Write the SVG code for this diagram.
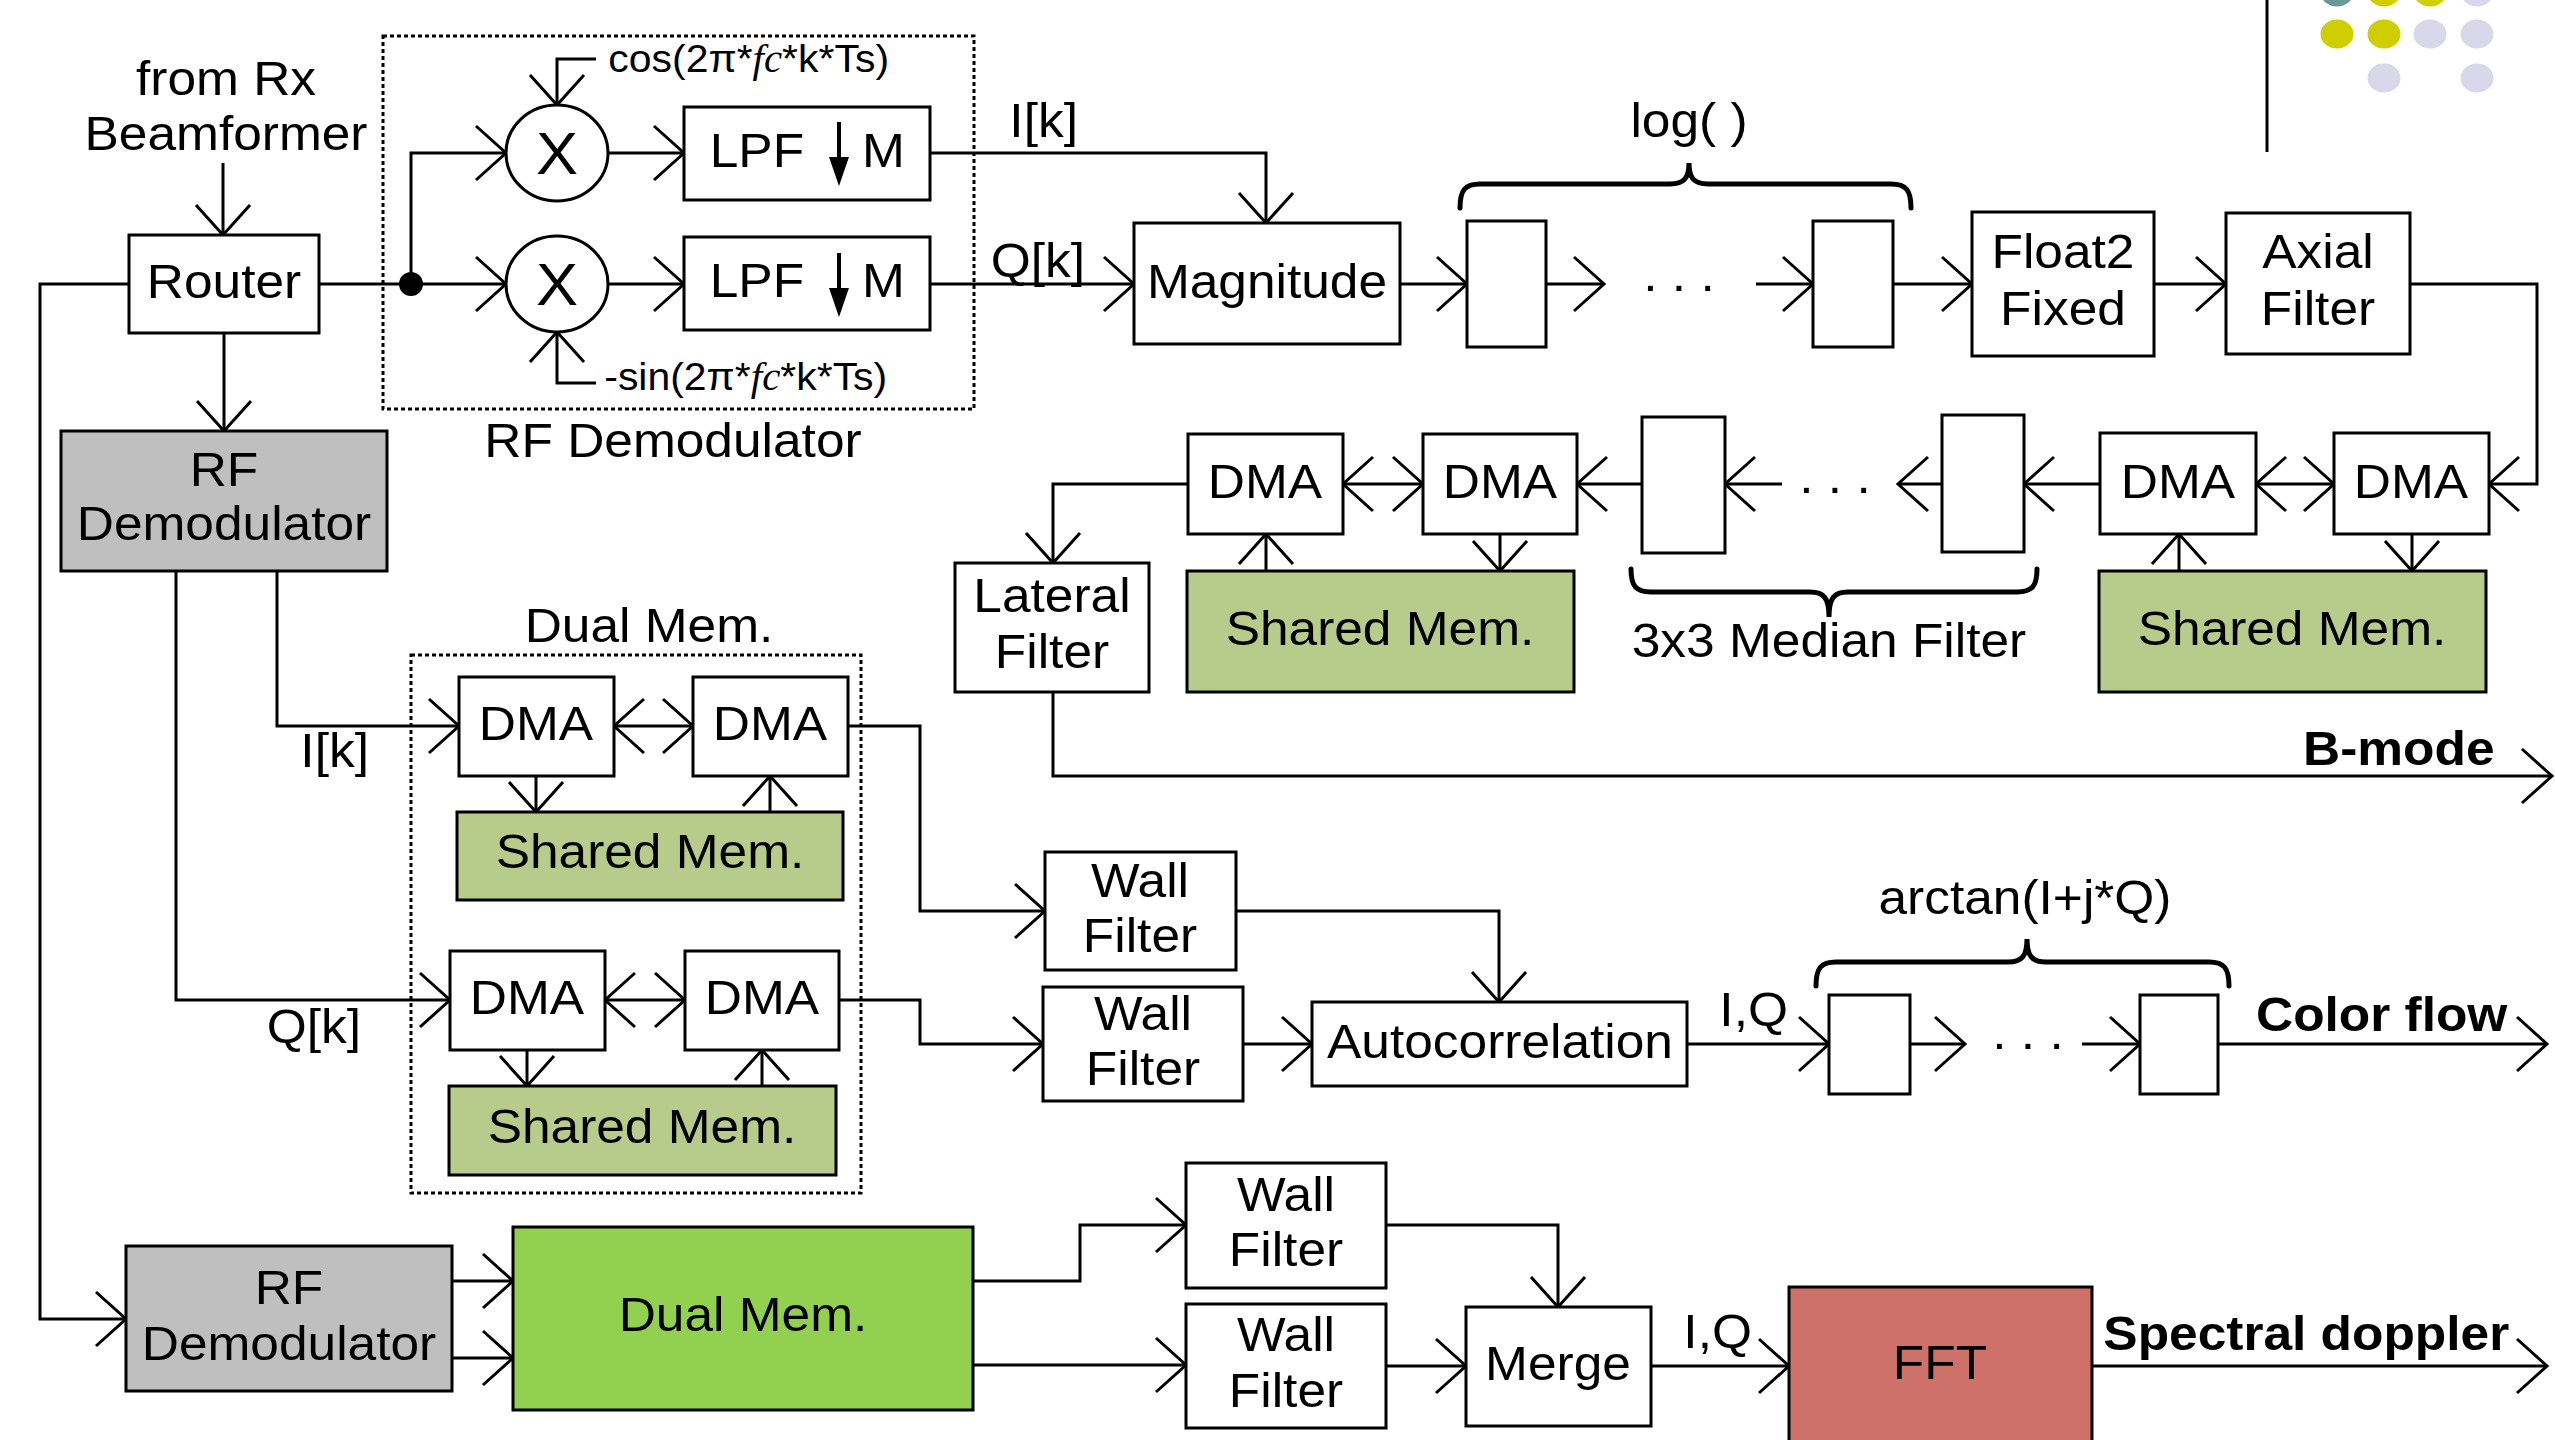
<svg xmlns="http://www.w3.org/2000/svg" width="2555" height="1440" viewBox="0 0 2555 1440">
<style>
.box{fill:#fff;stroke:#000;stroke-width:3}
.gray{fill:#bfbfbf}
.shared{fill:#b7cc8a}
.dual{fill:#92d050}
.fft{fill:#cd7169}
.frame{fill:none;stroke:#000;stroke-width:3;stroke-dasharray:4 3}
.w{fill:none;stroke:#000;stroke-width:3}
.a{marker-end:url(#ah)}
.d{marker-start:url(#ah2);marker-end:url(#ah2)}
.brace{fill:none;stroke:#000;stroke-width:5;stroke-linecap:round}
text{font-family:"Liberation Sans",Arial,sans-serif;font-size:49px;fill:#000;transform-box:fill-box;transform-origin:center;transform:scaleX(1.05)}
.m{text-anchor:middle}
.e{text-anchor:end}
.b{font-weight:bold}
.s{font-size:39px}
.x{font-size:60px}
.it{font-family:"Liberation Serif",serif;font-style:italic}
</style>
<defs>
<marker id="ah" markerUnits="userSpaceOnUse" viewBox="-32 -30 34 60" markerWidth="34" markerHeight="60" refX="0" refY="0" orient="auto" overflow="visible">
<path d="M-30,-27 L0,0 L-30,27" fill="none" stroke="#000" stroke-width="3"/>
</marker>
<marker id="ah2" markerUnits="userSpaceOnUse" viewBox="-32 -30 34 60" markerWidth="34" markerHeight="60" refX="0" refY="0" orient="auto-start-reverse" overflow="visible">
<path d="M-30,-27 L0,0 L-30,27" fill="none" stroke="#000" stroke-width="3"/>
</marker>
</defs>
<rect width="2555" height="1440" fill="#fff"/>

<g id="decoration">
<line x1="2267" y1="0" x2="2267" y2="152" stroke="#000" stroke-width="3"/>
<ellipse cx="2337" cy="-8" rx="16.5" ry="14.5" fill="#6a9a98"/>
<ellipse cx="2384" cy="-8" rx="16.5" ry="14.5" fill="#cfcf00"/>
<ellipse cx="2430" cy="-8" rx="16.5" ry="14.5" fill="#cfcf00"/>
<ellipse cx="2477" cy="-8" rx="16.5" ry="14.5" fill="#d8d8ea"/>
<ellipse cx="2337" cy="34" rx="16.5" ry="14.5" fill="#cfcf00"/>
<ellipse cx="2384" cy="34" rx="16.5" ry="14.5" fill="#cfcf00"/>
<ellipse cx="2430" cy="34" rx="16.5" ry="14.5" fill="#d8d8ea"/>
<ellipse cx="2477" cy="34" rx="16.5" ry="14.5" fill="#d8d8ea"/>
<ellipse cx="2384" cy="78" rx="16.5" ry="14.5" fill="#d8d8ea"/>
<ellipse cx="2477" cy="78" rx="16.5" ry="14.5" fill="#d8d8ea"/>
</g>

<g id="connectors">
<path class="w a" d="M223,163 V235"/>
<path class="w" d="M319,284 H411"/>
<path class="w a" d="M411,284 H506"/>
<path class="w a" d="M411,284 V153 H506"/>
<path class="w a" d="M608,153 H684"/>
<path class="w a" d="M608,284 H684"/>
<path class="w a" d="M596,59 H557 V105"/>
<path class="w a" d="M596,383 H557 V332"/>
<path class="w a" d="M930,153 H1266 V223"/>
<path class="w a" d="M930,284 H1134"/>
<path class="w a" d="M1400,284 H1467"/>
<path class="w a" d="M1546,284 H1604"/>
<path class="w a" d="M1756,284 H1813"/>
<path class="w a" d="M1893,284 H1972"/>
<path class="w a" d="M2154,284 H2226"/>
<path class="w a" d="M2410,284 H2537 V484 H2489"/>
<path class="w d" d="M2334,484 H2256"/>
<path class="w a" d="M2100,484 H2024"/>
<path class="w a" d="M1942,484 H1898"/>
<path class="w a" d="M1782,484 H1725"/>
<path class="w a" d="M1642,484 H1577"/>
<path class="w d" d="M1423,484 H1343"/>
<path class="w a" d="M1188,484 H1053 V563"/>
<path class="w a" d="M1266,571 V534"/>
<path class="w a" d="M1500,534 V571"/>
<path class="w a" d="M2179,571 V534"/>
<path class="w a" d="M2412,534 V571"/>
<path class="w a" d="M1053,692 V776 H2552"/>
<path class="w a" d="M224,333 V431"/>
<path class="w a" d="M129,284 H40 V1319 H126"/>
<path class="w a" d="M277,571 V726 H459"/>
<path class="w a" d="M176,571 V1000 H450"/>
<path class="w d" d="M614,726 H693"/>
<path class="w a" d="M536,776 V812"/>
<path class="w a" d="M770,812 V776"/>
<path class="w a" d="M848,726 H920 V911 H1045"/>
<path class="w d" d="M605,1000 H685"/>
<path class="w a" d="M527,1050 V1086"/>
<path class="w a" d="M762,1086 V1050"/>
<path class="w a" d="M839,1000 H920 V1044 H1043"/>
<path class="w a" d="M1236,911 H1499 V1002"/>
<path class="w a" d="M1243,1044 H1312"/>
<path class="w a" d="M1687,1044 H1829"/>
<path class="w a" d="M1910,1044 H1965"/>
<path class="w a" d="M2082,1044 H2140"/>
<path class="w a" d="M2218,1044 H2547"/>
<path class="w a" d="M452,1281 H513"/>
<path class="w a" d="M452,1358 H513"/>
<path class="w a" d="M973,1281 H1080 V1225 H1186"/>
<path class="w a" d="M973,1365 H1186"/>
<path class="w a" d="M1386,1225 H1558 V1307"/>
<path class="w a" d="M1386,1366 H1466"/>
<path class="w a" d="M1651,1366 H1789"/>
<path class="w a" d="M2092,1366 H2547"/>
</g>

<g id="from-rx"><text class="m" x="226" y="95">from Rx</text><text class="m" x="226" y="150">Beamformer</text></g>
<g id="router"><rect class="box" x="129" y="235" width="190" height="98"/><text class="m" x="224" y="298">Router</text></g>
<g id="junction"><circle cx="411" cy="284" r="12"/></g>
<g id="rf-demodulator-frame"><rect class="frame" x="383" y="36" width="591" height="373"/><text class="m" x="673" y="457">RF Demodulator</text></g>
<g id="mixer-i"><ellipse class="box" cx="557" cy="153" rx="51" ry="48"/><text class="m x" x="557" y="174">X</text></g>
<g id="mixer-q"><ellipse class="box" cx="557" cy="284" rx="51" ry="48"/><text class="m x" x="557" y="305">X</text></g>
<g id="cos-label"><text class="s" x="615" y="72">cos(2π*<tspan class="it">fc</tspan>*k*Ts)</text></g>
<g id="sin-label"><text class="s" x="611" y="390">-sin(2π*<tspan class="it">fc</tspan>*k*Ts)</text></g>
<g id="lpf-i"><rect class="box" x="684" y="107" width="246" height="93"/><text x="712" y="167">LPF</text><path d="M839,122 V160" stroke="#000" stroke-width="4"/><path d="M829,157 H849 L839,186 Z"/><text x="863" y="167">M</text></g>
<g id="lpf-q"><rect class="box" x="684" y="237" width="246" height="93"/><text x="712" y="297">LPF</text><path d="M839,253 V290" stroke="#000" stroke-width="4"/><path d="M829,288 H849 L839,317 Z"/><text x="863" y="297">M</text></g>
<g id="label-ik-top"><text x="1011" y="137">I[k]</text></g>
<g id="label-qk-top"><text x="993" y="277">Q[k]</text></g>
<g id="magnitude"><rect class="box" x="1134" y="223" width="266" height="121"/><text class="m" x="1267" y="298">Magnitude</text></g>
<g id="log-1"><rect class="box" x="1467" y="221" width="79" height="126"/></g>
<g id="log-2"><rect class="box" x="1813" y="221" width="80" height="126"/></g>
<g id="log-group"><path class="brace" d="M1460,208 C1460,190 1465,184 1480,184 L1670,184 C1684,184 1689,178 1689,163 C1689,178 1694,184 1708,184 L1891,184 C1906,184 1911,190 1911,208"/><text class="m" x="1689" y="137">log( )</text><text x="1645" y="291">. . .</text></g>
<g id="float2fixed"><rect class="box" x="1972" y="212" width="182" height="144"/><text class="m" x="2063" y="268">Float2</text><text class="m" x="2063" y="325">Fixed</text></g>
<g id="axial-filter"><rect class="box" x="2226" y="213" width="184" height="141"/><text class="m" x="2318" y="268">Axial</text><text class="m" x="2318" y="325">Filter</text></g>

<g id="dma-b4"><rect class="box" x="2334" y="433" width="155" height="101"/><text class="m" x="2411" y="498">DMA</text></g>
<g id="dma-b3"><rect class="box" x="2100" y="433" width="156" height="101"/><text class="m" x="2178" y="498">DMA</text></g>
<g id="median-2"><rect class="box" x="1942" y="415" width="82" height="137"/></g>
<g id="median-1"><rect class="box" x="1642" y="417" width="83" height="136"/></g>
<g id="median-group"><path class="brace" d="M1631,569 C1631,586 1636,592 1651,592 L1810,592 C1824,592 1829,598 1829,617 C1829,598 1834,592 1848,592 L2017,592 C2032,592 2037,586 2037,569"/><text class="m" x="1829" y="657">3x3 Median Filter</text><text x="1801" y="493">. . .</text></g>
<g id="dma-b2"><rect class="box" x="1423" y="434" width="154" height="100"/><text class="m" x="1500" y="498">DMA</text></g>
<g id="dma-b1"><rect class="box" x="1188" y="434" width="155" height="100"/><text class="m" x="1265" y="498">DMA</text></g>
<g id="shared-b1"><rect class="box shared" x="1187" y="571" width="387" height="121"/><text class="m" x="1380" y="645">Shared Mem.</text></g>
<g id="shared-b2"><rect class="box shared" x="2099" y="571" width="387" height="121"/><text class="m" x="2292" y="645">Shared Mem.</text></g>
<g id="lateral-filter"><rect class="box" x="955" y="563" width="194" height="129"/><text class="m" x="1052" y="612">Lateral</text><text class="m" x="1052" y="668">Filter</text></g>
<g id="out-bmode"><text class="e b" x="2490" y="765">B-mode</text></g>

<g id="rf-demod-1"><rect class="box gray" x="61" y="431" width="326" height="140"/><text class="m" x="224" y="486">RF</text><text class="m" x="224" y="540">Demodulator</text></g>
<g id="dual-mem-frame"><rect class="frame" x="411" y="655" width="450" height="538"/><text class="m" x="649" y="642">Dual Mem.</text></g>
<g id="label-ik"><text x="302" y="767">I[k]</text></g>
<g id="label-qk"><text x="269" y="1043">Q[k]</text></g>
<g id="dma-i1"><rect class="box" x="459" y="677" width="155" height="99"/><text class="m" x="536" y="740">DMA</text></g>
<g id="dma-i2"><rect class="box" x="693" y="677" width="155" height="99"/><text class="m" x="770" y="740">DMA</text></g>
<g id="shared-i"><rect class="box shared" x="457" y="812" width="386" height="88"/><text class="m" x="650" y="868">Shared Mem.</text></g>
<g id="dma-q1"><rect class="box" x="450" y="951" width="155" height="99"/><text class="m" x="527" y="1014">DMA</text></g>
<g id="dma-q2"><rect class="box" x="685" y="951" width="154" height="99"/><text class="m" x="762" y="1014">DMA</text></g>
<g id="shared-q"><rect class="box shared" x="449" y="1086" width="387" height="89"/><text class="m" x="642" y="1143">Shared Mem.</text></g>

<g id="wall-filter-1"><rect class="box" x="1045" y="852" width="191" height="118"/><text class="m" x="1140" y="897">Wall</text><text class="m" x="1140" y="952">Filter</text></g>
<g id="wall-filter-2"><rect class="box" x="1043" y="987" width="200" height="114"/><text class="m" x="1143" y="1030">Wall</text><text class="m" x="1143" y="1085">Filter</text></g>
<g id="autocorrelation"><rect class="box" x="1312" y="1002" width="375" height="84"/><text class="m" x="1500" y="1058">Autocorrelation</text></g>
<g id="label-iq-1"><text x="1721" y="1026">I,Q</text></g>
<g id="arctan-1"><rect class="box" x="1829" y="995" width="81" height="99"/></g>
<g id="arctan-2"><rect class="box" x="2140" y="995" width="78" height="99"/></g>
<g id="arctan-group"><path class="brace" d="M1816,986 C1816,968 1821,962 1836,962 L2008,962 C2022,962 2027,956 2027,939 C2027,956 2032,962 2046,962 L2209,962 C2224,962 2229,968 2229,986"/><text class="m" x="2025" y="914">arctan(I+j*Q)</text><text x="1994" y="1049">. . .</text></g>
<g id="out-colorflow"><text class="b" x="2262" y="1031">Color flow</text></g>

<g id="rf-demod-2"><rect class="box gray" x="126" y="1246" width="326" height="145"/><text class="m" x="289" y="1304">RF</text><text class="m" x="289" y="1360">Demodulator</text></g>
<g id="dual-mem"><rect class="box dual" x="513" y="1227" width="460" height="183"/><text class="m" x="743" y="1331">Dual Mem.</text></g>
<g id="wall-filter-3"><rect class="box" x="1186" y="1163" width="200" height="125"/><text class="m" x="1286" y="1211">Wall</text><text class="m" x="1286" y="1266">Filter</text></g>
<g id="wall-filter-4"><rect class="box" x="1186" y="1304" width="200" height="124"/><text class="m" x="1286" y="1351">Wall</text><text class="m" x="1286" y="1407">Filter</text></g>
<g id="merge"><rect class="box" x="1466" y="1307" width="185" height="119"/><text class="m" x="1558" y="1380">Merge</text></g>
<g id="label-iq-2"><text x="1685" y="1348">I,Q</text></g>
<g id="fft"><rect class="box fft" x="1789" y="1287" width="303" height="170"/><text class="m" x="1940" y="1379">FFT</text></g>
<g id="out-spectral"><text class="b" x="2113" y="1350">Spectral doppler</text></g>
</svg>
